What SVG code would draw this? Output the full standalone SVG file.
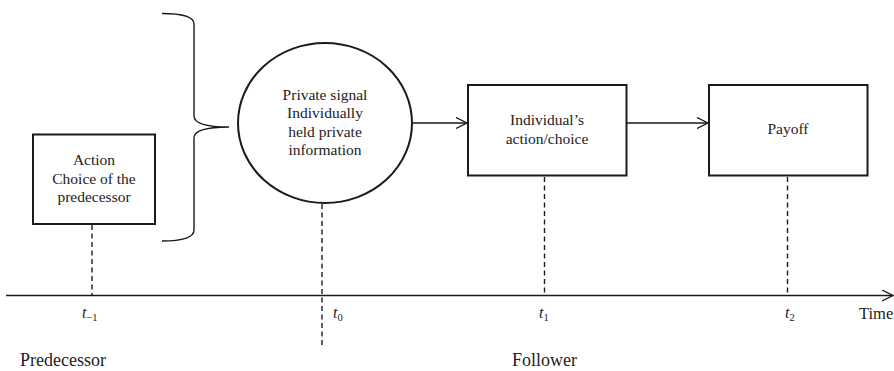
<svg xmlns="http://www.w3.org/2000/svg" width="894" height="371" viewBox="0 0 894 371">
<defs>
<style>
text{font-family:"Liberation Serif","Times New Roman","DejaVu Serif",serif;fill:#222}
.node{fill:#fff;stroke:#1a1a1a;stroke-width:2}
.lbl{font-size:15.5px;text-anchor:middle}
.big{font-size:18px}
.t{font-size:16px;font-style:italic}
.sub{font-size:10.5px;font-style:normal}
.dash{stroke:#1a1a1a;stroke-width:1.4;stroke-dasharray:5,3.5;fill:none}
.line{stroke:#1a1a1a;stroke-width:1.4;fill:none}
</style>
<marker id="arr" viewBox="0 0 12 12" refX="11" refY="6" markerWidth="12" markerHeight="12" markerUnits="userSpaceOnUse" orient="auto">
<path d="M0,0.5 L11,6 L0,11.5" fill="none" stroke="#1a1a1a" stroke-width="1.3"/>
</marker>
</defs>
<rect width="894" height="371" fill="#fff"/>

<g id="brace">
<path class="line" d="M162,13.5 Q194,13.5 194,24 L194,116 Q194,127 229,127 Q194,127 194,138 L194,230 Q194,241 162,241" stroke-width="1.6"/>
</g>

<g id="node-action">
<rect class="node" x="33" y="134.5" width="122" height="89.5"/>
<text class="lbl" x="94" y="165">Action</text>
<text class="lbl" x="94" y="183.5">Choice of the</text>
<text class="lbl" x="94" y="202">predecessor</text>
</g>

<g id="node-signal">
<ellipse class="node" cx="325" cy="123" rx="87" ry="80"/>
<text class="lbl" x="325" y="100">Private signal</text>
<text class="lbl" x="325" y="118">Individually</text>
<text class="lbl" x="325" y="136.5">held private</text>
<text class="lbl" x="325" y="155">information</text>
</g>

<g id="node-choice">
<rect class="node" x="468" y="85" width="158.5" height="90.5"/>
<text class="lbl" x="547" y="125">Individual’s</text>
<text class="lbl" x="547" y="143.5">action/choice</text>
</g>

<g id="node-payoff">
<rect class="node" x="709" y="85" width="158.5" height="90.5"/>
<text class="lbl" x="788" y="134">Payoff</text>
</g>

<g id="connectors">
<line class="line" x1="412" y1="123" x2="467" y2="123" marker-end="url(#arr)"/>
<line class="line" x1="627" y1="123" x2="708" y2="123" marker-end="url(#arr)"/>
<line class="line" x1="6" y1="295.5" x2="893" y2="295.5" marker-end="url(#arr)"/>
<line class="dash" x1="92" y1="225" x2="92" y2="295"/>
<line class="dash" x1="322" y1="204" x2="322" y2="348"/>
<line class="dash" x1="544.5" y1="177" x2="544.5" y2="295"/>
<line class="dash" x1="787.5" y1="177" x2="787.5" y2="295"/>
</g>

<g id="labels">
<text class="t" x="82" y="318">t<tspan class="sub" dy="3">−1</tspan></text>
<text class="t" x="333" y="318">t<tspan class="sub" dy="3">0</tspan></text>
<text class="t" x="539" y="318">t<tspan class="sub" dy="3">1</tspan></text>
<text class="t" x="785" y="318">t<tspan class="sub" dy="3">2</tspan></text>
<text x="859" y="318.5" font-size="16.5">Time</text>
<text class="big" x="20" y="366">Predecessor</text>
<text class="big" x="512" y="366">Follower</text>
</g>
</svg>
